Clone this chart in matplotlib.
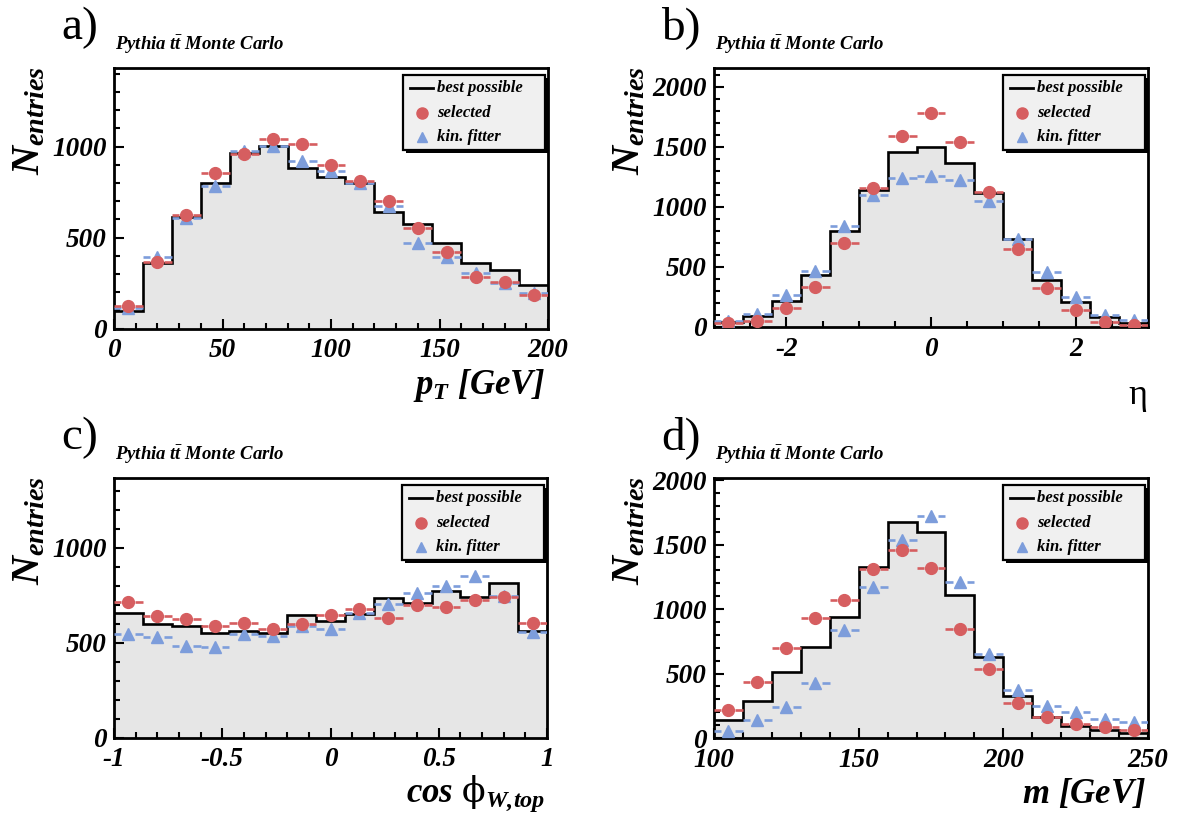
import numpy as np
import matplotlib
matplotlib.use("Agg")
import matplotlib.pyplot as plt
from matplotlib.lines import Line2D
from matplotlib.patches import Rectangle
from matplotlib.ticker import MultipleLocator, FuncFormatter

# ---------------- data ----------------
n_bins = 15

pt_range = (0, 200)
pt_best = [99, 359, 615, 802, 963, 1004, 881, 835, 802, 643, 575, 473, 359, 322, 240]
pt_sel = [125, 368, 625, 853, 960, 1040, 1015, 899, 813, 701, 555, 419, 286, 255, 185]
pt_kin = [112, 396, 606, 784, 976, 1004, 923, 866, 802, 674, 473, 392, 308, 249, 194]

eta_range = (-3, 3)
eta_best = [42, 89, 214, 436, 797, 1144, 1456, 1497, 1367, 1117, 733, 394, 208, 81, 33]
eta_sel = [33, 53, 156, 331, 697, 1156, 1594, 1783, 1542, 1122, 650, 325, 139, 42, 19]
eta_kin = [47, 111, 267, 469, 844, 1097, 1242, 1261, 1222, 1047, 733, 458, 250, 103, 56]

cos_range = (-1, 1)
cos_best = [658, 598, 588, 549, 561, 549, 646, 616, 651, 733, 707, 774, 739, 816, 561]
cos_sel = [716, 640, 625, 588, 602, 572, 598, 646, 677, 632, 698, 689, 725, 739, 605]
cos_kin = [544, 532, 484, 479, 544, 537, 589, 572, 654, 704, 763, 798, 851, 746, 558]

m_range = (100, 250)
m_best = [137, 289, 509, 703, 938, 1326, 1672, 1595, 1111, 625, 323, 163, 96, 65, 39]
m_sel = [215, 432, 698, 928, 1073, 1311, 1455, 1318, 845, 537, 271, 163, 111, 85, 65]
m_kin = [52, 137, 238, 426, 835, 1169, 1533, 1719, 1211, 651, 370, 252, 203, 147, 121]

legend_labels = ["best possible", "selected", "kin. fitter"]
panel_tags = ["a)", "b)", "c)", "d)"]
sample_text = r"Pythia $t\bar{t}$ Monte Carlo"

# ---------------- style ----------------
W, H = 1190, 825
RED = "#d65e60"
BLUE = "#7d9ddb"
FILL = "#e6e6e6"
LEGBG = "#f0f0f0"

plt.rcParams.update({
    "font.family": "Liberation Serif",
    "font.weight": "bold",
    "font.style": "italic",
    "mathtext.fontset": "custom",
    "mathtext.it": "Liberation Serif:italic:bold",
    "mathtext.rm": "Liberation Serif:italic:bold",
    "mathtext.bf": "Liberation Serif:italic:bold",
    "mathtext.sf": "DejaVu Serif:style=normal:weight=normal",
})

fig = plt.figure(figsize=(W / 100, H / 100), dpi=100)


def fx(x):
    return x / W


def fy(y):
    return 1 - y / H


def add_axes_px(l, t, r, b):
    return fig.add_axes([fx(l), fy(b), (r - l) / W, (b - t) / H])


def fmt(v, _):
    return "%g" % v


def draw_panel(box, xr, ylim, best, sel, kin, xmaj, xmin, ymaj=500, ymin=100):
    l, t, r, b = box
    ax = add_axes_px(l, t, r, b)
    edges = np.linspace(xr[0], xr[1], n_bins + 1)
    centers = 0.5 * (edges[:-1] + edges[1:])
    ax.stairs(best, edges, fill=True, color=FILL, zorder=1)
    ax.stairs(best, edges, color="black", lw=1.9, zorder=2, baseline=None)

    # horizontal bars leave a small gap around each marker
    gap = 7.0 / (r - l) * (xr[1] - xr[0])
    for vals, col, mk, ms, ls in ((kin, BLUE, "^", 8, (0, (4, 1.2))),
                                  (sel, RED, "o", 8.5, "-")):
        ax.hlines(vals, edges[:-1], centers - gap, color=col, lw=1.9,
                  linestyles=ls, zorder=3)
        ax.hlines(vals, centers + gap, edges[1:], color=col, lw=1.9,
                  linestyles=ls, zorder=3)
        ax.plot(centers, vals, ls="none", marker=mk, ms=ms, color=col,
                mec=col, zorder=4)

    ax.set_xlim(*xr)
    ax.set_ylim(*ylim)
    ax.xaxis.set_major_locator(MultipleLocator(xmaj))
    ax.xaxis.set_minor_locator(MultipleLocator(xmin))
    ax.yaxis.set_major_locator(MultipleLocator(ymaj))
    ax.yaxis.set_minor_locator(MultipleLocator(ymin))
    ax.xaxis.set_major_formatter(FuncFormatter(fmt))
    ax.yaxis.set_major_formatter(FuncFormatter(fmt))
    ax.tick_params(which="both", direction="in", width=1.5, top=False,
                   right=False, labelsize=19.5)
    ax.tick_params(which="major", length=7)
    ax.tick_params(which="minor", length=4)
    ax.tick_params(axis="x", pad=7)
    ax.tick_params(axis="y", pad=5)
    for s in ax.spines.values():
        s.set_linewidth(2.0)

    # legend box with a drop shadow, anchored to the upper right corner
    lx0, lx1 = r - 145, r - 3
    ly0, ly1 = t + 7, t + 82
    sh = 3
    fig.add_artist(Rectangle((fx(lx0 + sh), fy(ly1 + sh)), (lx1 - lx0) / W,
                             (ly1 - ly0) / H, transform=fig.transFigure,
                             facecolor="black", edgecolor="black", lw=0,
                             zorder=5))
    fig.add_artist(Rectangle((fx(lx0), fy(ly1)), (lx1 - lx0) / W,
                             (ly1 - ly0) / H, transform=fig.transFigure,
                             facecolor=LEGBG, edgecolor="black", lw=1.6,
                             zorder=6))
    rows = [t + 20, t + 45, t + 69]
    hx = lx0 + 19
    fig.add_artist(Line2D([fx(lx0 + 7), fx(lx0 + 30)], [fy(rows[0])] * 2,
                          transform=fig.transFigure, color="black", lw=2,
                          zorder=7))
    fig.add_artist(Line2D([fx(hx)], [fy(rows[1])], transform=fig.transFigure,
                          marker="o", ms=8, color=RED, ls="none", zorder=7))
    fig.add_artist(Line2D([fx(hx)], [fy(rows[2])], transform=fig.transFigure,
                          marker="^", ms=7.5, color=BLUE, ls="none", zorder=7))
    for yy, lab in zip(rows, legend_labels):
        fig.text(fx(lx0 + 34), fy(yy), lab, fontsize=12, ha="left",
                 va="center", zorder=8)
    return ax


boxes = {
    "a": (114, 68, 548, 328.7),
    "b": (714, 68, 1148, 327),
    "c": (114, 478, 547, 737.7),
    "d": (714, 478, 1148, 738),
}

draw_panel(boxes["a"], pt_range, (0, 1432), pt_best, pt_sel, pt_kin, 50, 10)
draw_panel(boxes["b"], eta_range, (0, 2158), eta_best, eta_sel, eta_kin, 2, 0.5)
draw_panel(boxes["c"], cos_range, (0, 1367), cos_best, cos_sel, cos_kin, 0.5, 0.1)
draw_panel(boxes["d"], m_range, (0, 2016), m_best, m_sel, m_kin, 50, 10)

# panel tags, sample text and y titles
for key, tag in zip("abcd", panel_tags):
    l, t, r, b = boxes[key]
    fig.text(fx(l - 53), fy(t - 40), tag, fontsize=34, fontstyle="normal",
             fontweight="normal", ha="left", va="center")
    fig.text(fx(l + 1), fy(t - 23), sample_text, fontsize=13.5, ha="left",
             va="center")
    fig.text(fx(l - 84), fy(t - 2), r"$N_{entries}$", fontsize=29, rotation=90,
             ha="center", va="top")

# x titles
fig.text(fx(546), fy(385), r"$p_{T}\ [GeV]$", fontsize=25, ha="right",
         va="center")
fig.text(fx(1147), fy(395), "\u03b7", fontsize=26, fontstyle="normal",
         fontweight="normal", ha="right", va="center")
fig.text(fx(545), fy(794), r"$cos\ \mathsf{\phi}_{W{,}top}$", fontsize=25,
         ha="right", va="center")
fig.text(fx(1146), fy(794), r"$m\ [GeV]$", fontsize=25, ha="right",
         va="center")

fig.savefig("out.png", dpi=100)
